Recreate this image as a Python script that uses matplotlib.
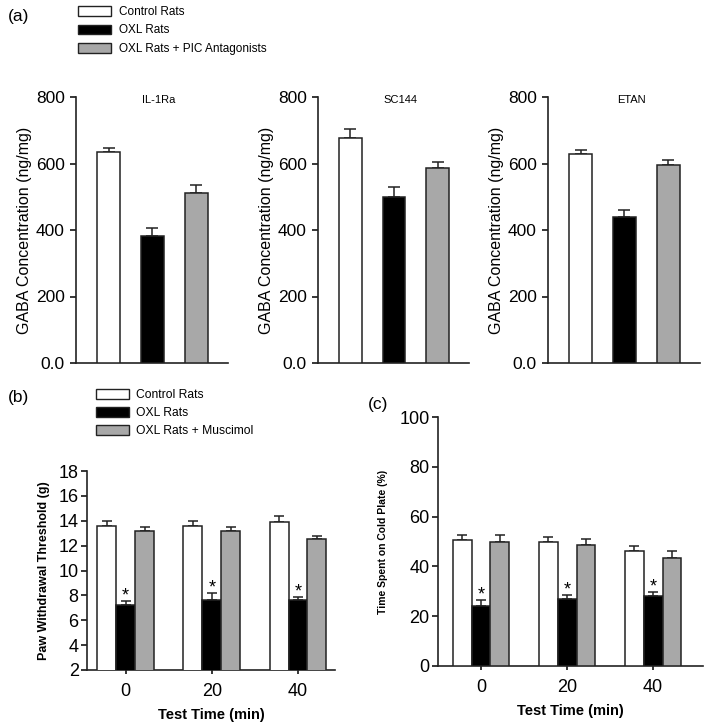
import numpy as np
import matplotlib.pyplot as plt
from matplotlib.patches import Patch

plt.rcParams['font.family'] = ['Liberation Sans', 'DejaVu Sans']
narrow = ['Liberation Sans Narrow', 'Liberation Sans', 'DejaVu Sans']

# panel (a): GABA concentration
a_titles = ['IL-1Ra', 'SC144', 'ETAN']
a_groups = ['Control Rats', 'OXL Rats', 'OXL Rats + PIC Antagonists']
a_means = [[635, 383, 512],
           [677, 500, 585],
           [630, 440, 594]]
a_errs = [[12, 22, 22],
          [27, 29, 20],
          [12, 21, 17]]

# panel (b): paw withdrawal threshold
times = ['0', '20', '40']
b_groups = ['Control Rats', 'OXL Rats', 'OXL Rats + Muscimol']
b_ctrl = [13.6, 13.6, 13.9]
b_ctrl_err = [0.4, 0.4, 0.5]
b_oxl = [7.2, 7.6, 7.6]
b_oxl_err = [0.35, 0.6, 0.3]
b_mus = [13.2, 13.2, 12.5]
b_mus_err = [0.3, 0.3, 0.3]

# panel (c): time on cold plate
c_ctrl = [50.8, 50.0, 46.2]
c_ctrl_err = [2.0, 1.8, 2.0]
c_oxl = [24.2, 27.0, 28.0]
c_oxl_err = [2.5, 1.6, 1.7]
c_mus = [50.0, 48.6, 43.5]
c_mus_err = [2.8, 2.5, 2.5]

colors = ['white', 'black', '#a8a8a8']
W, H = 705, 723


def frac(left, right, top, bottom):
    return [left / W, (H - bottom) / H, (right - left) / W, (bottom - top) / H]


fig = plt.figure(figsize=(W / 100, H / 100), dpi=100)


def style(ax):
    for s in ['top', 'right']:
        ax.spines[s].set_visible(False)
    for s in ['left', 'bottom']:
        ax.spines[s].set_linewidth(1.2)
        ax.spines[s].set_color('#222222')


# ---- (a)
a_boxes = [(76, 228), (318, 469), (548, 700)]
for i, (l, r) in enumerate(a_boxes):
    ax = fig.add_axes(frac(l, r, 97, 363))
    x = np.arange(3)
    ax.bar(x, a_means[i], width=0.52, color=colors, edgecolor='#222222', linewidth=1.1, zorder=3)
    ax.errorbar(x, a_means[i], yerr=[np.zeros(3), a_errs[i]], fmt='none', ecolor='#222222',
                elinewidth=1.1, capsize=4, capthick=1.1, zorder=2)
    ax.set_xlim(-0.74, 2.72)
    ax.set_ylim(0, 800)
    ax.set_yticks([0, 200, 400, 600, 800])
    ax.set_yticklabels(['0.0', '200', '400', '600', '800'], fontsize=12.5)
    ax.set_xticks([])
    ax.tick_params(axis='y', length=4, width=1.1, pad=4)
    ax.set_ylabel('GABA Concentration (ng/mg)', fontsize=11.5, labelpad=3)
    ax.text(1.15, 790, a_titles[i], ha='center', va='center', fontsize=8, clip_on=False)
    style(ax)

fig.legend([Patch(facecolor=c, edgecolor='#222222', linewidth=1) for c in colors], a_groups,
           loc='upper left', bbox_to_anchor=(78 / W, 1 - 6 / H), frameon=False, fontsize=8.5,
           handlelength=2.8, handleheight=0.85, handletextpad=0.65, labelspacing=0.55,
           borderpad=0, borderaxespad=0)
fig.text(8 / W, 1 - 16 / H, '(a)', fontsize=12.5, va='center')


# ---- (b) and (c)
def grouped(ax, series, errs, star_ofs):
    x = np.arange(3)
    w = 0.22
    for k in range(3):
        ax.bar(x + (k - 1) * w, series[k], width=w, color=colors[k], edgecolor='#222222',
               linewidth=1.1, zorder=3)
        ax.errorbar(x + (k - 1) * w, series[k], yerr=[np.zeros(3), errs[k]], fmt='none',
                    ecolor='#222222', elinewidth=1.1, capsize=3.5, capthick=1.1, zorder=2)
    for j in range(3):
        ax.text(j, series[1][j] + errs[1][j] + star_ofs, '*', ha='center', va='center', fontsize=13)
    ax.set_xticks(x)
    ax.set_xticklabels(times, family=narrow, fontsize=13)
    ax.tick_params(axis='x', length=3, width=1.1, pad=6)
    ax.tick_params(axis='y', length=4, width=1.1, pad=2)
    for t in ax.get_yticklabels():
        t.set_family(narrow)
        t.set_fontsize(13)
    ax.set_xlabel('Test Time (min)', fontsize=10.5, fontweight='bold', family=narrow, labelpad=6)
    style(ax)


axb = fig.add_axes(frac(87, 335, 471, 670))
axb.set_yticks(np.arange(2, 19, 2))
grouped(axb, [b_ctrl, b_oxl, b_mus], [b_ctrl_err, b_oxl_err, b_mus_err], 0.4)
axb.set_ylim(2, 18)
axb.set_xlim(-0.45, 2.43)
axb.set_ylabel('Paw Withdrawal Threshold (g)', fontsize=9, fontweight='bold', labelpad=6)

axc = fig.add_axes(frac(438, 703, 417, 666))
axc.set_yticks(np.arange(0, 101, 20))
grouped(axc, [c_ctrl, c_oxl, c_mus], [c_ctrl_err, c_oxl_err, c_mus_err], 2.0)
axc.set_ylim(0, 100)
axc.set_xlim(-0.5, 2.58)
axc.set_ylabel('Time Spent on Cold Plate (%)', fontsize=7.5, fontweight='bold', labelpad=8)

fig.legend([Patch(facecolor=c, edgecolor='#222222', linewidth=1) for c in colors], b_groups,
           loc='upper left', bbox_to_anchor=(96 / W, 1 - 389 / H), frameon=False, fontsize=8.7,
           handlelength=2.7, handleheight=0.85, handletextpad=0.65, labelspacing=0.5,
           borderpad=0, borderaxespad=0)
fig.text(8 / W, 1 - 397 / H, '(b)', fontsize=12.5, va='center')
fig.text(368 / W, 1 - 405 / H, '(c)', fontsize=12.5, va='center')

plt.savefig('out.png', dpi=100)
